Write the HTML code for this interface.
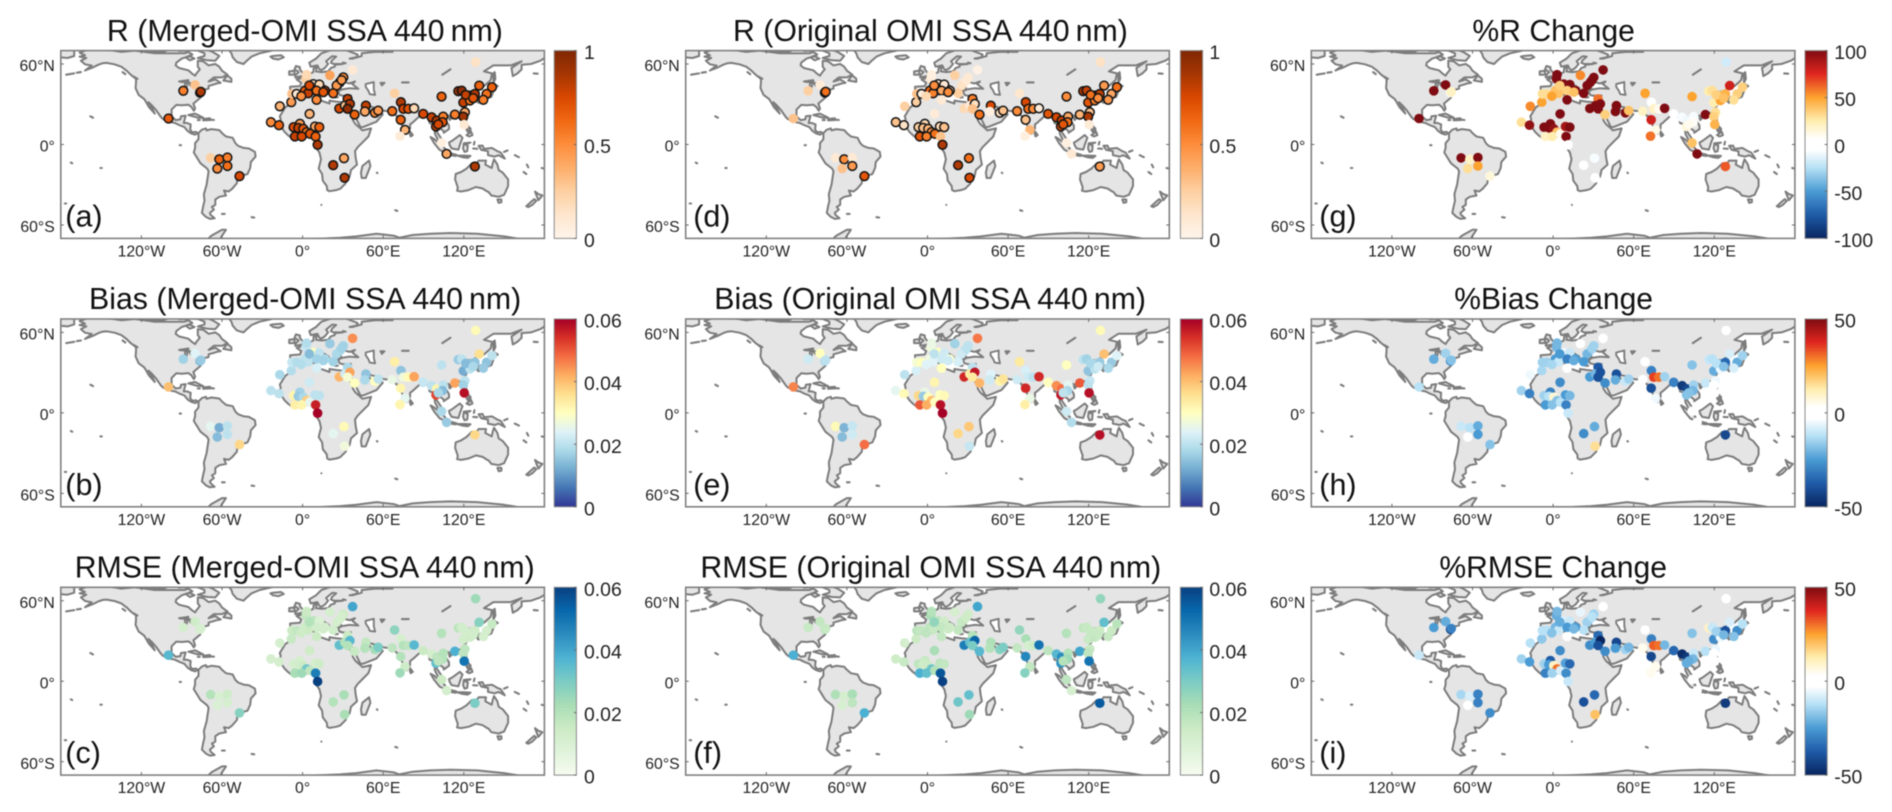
<!DOCTYPE html>
<html lang="en">
<head>
<meta charset="utf-8">
<title>SSA validation maps</title>
<style>
html,body{margin:0;padding:0;background:#fff;width:1892px;height:812px;overflow:hidden}
svg{display:block;filter:blur(0.5px)}
text{font-family:"Liberation Sans",Arial,sans-serif}
</style>
</head>
<body>
<svg id="figure" xmlns="http://www.w3.org/2000/svg" width="1892" height="812" viewBox="0 0 1892 812"><defs id="defs"></defs><rect width="1892" height="812" fill="#fff"></rect></svg>
<script>
/* Site locations, grouped: N.America, S.America, Africa, Europe, Middle East, India, E.Asia/Oceania */
const siteLon=[-88.8,-80,-76.4,-75.8,-99.8,
-68.5,-62,-56,-63.5,-56,-47,
-23.6,-17.6,-17,-8.4,-8,5.2,-6.7,-2,-3.2,.5,3,-5.7,-.7,5.5,9.2,12.4,9.7,11.2,22.8,30.8,31.3,
2.5,3,20.3,37.2,30.3,27.8,25.3,22.8,-4.5,1.7,8,12.4,4.2,10.4,16.6,10.4,15.4,5,-1,
27.3,33.5,31.5,35.2,33.5,38.7,47.1,46.4,53.8,56.3,68.5,66.7,
73.2,75,78.7,83,73,76.2,72.5,89.8,
96,99.8,104.7,99.3,104.2,101,113.4,119.6,120.8,119.6,120.3,103.5,107.2,128.3,103.5,115.9,118.4,125,128.3,124.6,131.5,137,141,134.5,128.8,121.5,127,29];
const siteLat=[40,44.4,38.7,39.3,19.4,
-10,-11,-9.7,-18,-16,-23.6,
16.6,14.4,28.5,31.5,37.7,22.8,12.9,15.4,12.4,11.7,9.2,6,6,8,13.4,12.9,6,-.2,-15.4,-10.2,-24.8,
49,52,51.6,55.6,50,46.4,44,38.2,37.7,40.2,45,44.7,38.2,40.2,40.2,33.3,39,44,36,
26.8,34,29,30.3,26.6,22.3,29,24.6,23.6,25.3,38.2,24.8,
31.5,26.6,26.6,27,18.4,10.9,6.2,22.8,
20.3,17.9,20.8,13.4,16.6,15,22.3,31.3,24,20.8,14.9,1.2,-7,-16.4,35.7,39.7,40.2,36.5,37.7,32.8,43.9,37.7,42.7,33.3,61.5,37,34.5,48];

const rMerged=[.55,.3,.8,.85,.68,
.25,.65,.55,.5,.6,.75,
.5,.65,.35,.45,.3,.35,.75,.45,.8,.7,.6,.8,.75,.7,.4,.65,.65,.85,.85,.4,.85,
.25,.2,.42,.1,.5,.4,.45,.6,.1,.7,.15,.2,.8,.6,.8,.5,.7,.75,.5,
.75,.8,.3,.85,.95,.65,.8,.4,.5,.45,.25,.6,
.85,.75,.7,.2,.65,.35,.08,.75,
.8,.85,.55,.8,.7,.75,.55,.8,.4,.9,.1,.05,.4,.85,.65,.9,.95,.85,.85,.6,.65,.6,.65,.55,.15,.8,.7,.45];
const rOriginal=[.25,.08,.75,.6,.3,
.1,.5,.1,.3,.45,.7,
.3,.15,.25,.25,.3,.08,.25,.2,.3,.35,.5,.7,.55,.6,.2,.3,.3,.85,.85,.6,.75,
.08,.05,.25,.03,.1,.08,.15,.25,.05,.65,.1,.1,.55,.4,.2,.1,.5,.5,.2,
.2,.55,.1,.15,.3,.6,.75,.05,.15,.3,.12,.5,
.75,.6,.5,.08,.3,.35,.05,.7,
.75,.8,.4,.75,.6,.7,.35,.7,.3,.85,.08,.05,.1,.45,.5,.85,.8,.8,.8,.55,.45,.4,.6,.45,.15,.6,.5,.1];
const rChange=[100,100,8,20,100,
100,20,100,30,50,15,
30,95,55,50,30,100,100,100,100,95,40,20,25,10,90,100,100,3,-3,-8,-5,
100,100,55,100,100,100,100,100,30,40,100,100,40,35,100,100,40,35,50,
100,60,100,100,100,35,100,100,100,40,50,20,
0,20,10,100,80,12,60,5,
-8,-10,-8,15,8,10,100,25,30,35,45,40,100,65,50,25,30,40,45,50,80,35,35,30,-18,35,40,100];
const biasMerged=[.017,.024,.013,.016,.04,
.025,.012,.02,.014,.02,.037,
.02,.02,.018,.019,.021,.022,.032,.017,.016,.018,.038,.033,.032,.025,.02,.02,.056,.06,.025,.031,.027,
.021,.019,.016,.045,.017,.018,.018,.017,.019,.02,.03,.02,.02,.017,.018,.023,.017,.014,.019,
.041,.018,.022,.043,.028,.03,.015,.018,.03,.02,.033,.026,
.015,.027,.031,.043,.032,.025,.032,.021,
.02,.032,.02,.052,.014,.018,.043,.012,.02,.017,.058,.018,.016,.037,.02,.016,.02,.016,.015,.02,.036,.015,.02,.016,.031,.014,.018,.017];
const biasOriginal=[.022,.03,.018,.02,.046,
.031,.013,.021,.014,.022,.048,
.025,.031,.02,.023,.028,.032,.037,.026,.016,.03,.04,.05,.042,.03,.03,.031,.058,.06,.037,.039,.021,
.027,.026,.017,.047,.02,.02,.022,.023,.03,.027,.03,.022,.024,.022,.028,.03,.022,.02,.024,
.055,.02,.033,.057,.034,.041,.024,.022,.032,.035,.034,.022,
.023,.022,.02,.055,.055,.026,.033,.03,
.045,.048,.025,.057,.018,.02,.05,.015,.021,.02,.058,.022,.019,.058,.03,.02,.017,.019,.016,.02,.04,.016,.024,.018,.031,.018,.022,.02];
const biasChange=[-22,-15,-28,-18,-12,
-10,-12,-22,0,-25,-18,
-15,-30,-5,-14,-15,-28,-15,-30,-12,8,-18,-25,-18,-12,-25,-20,-30,-10,-28,-22,15,
-20,-20,0,-2,-15,-12,-20,-25,-15,-25,-5,-10,-10,-30,-25,-2,-22,-25,-14,
-25,-38,-20,-40,-40,-28,-40,-22,-10,-15,0,3,
-30,35,30,-15,-40,-5,0,-30,
-45,-42,-15,-18,-20,-18,-10,-22,-5,-2,-3,-3,-3,-42,-18,-10,-12,-20,-35,-5,-8,-22,-15,-8,0,-12,-18,-15];
const rmseMerged=[.012,.014,.012,.011,.036,
.02,.011,.014,.01,.012,.028,
.012,.012,.012,.016,.015,.014,.012,.012,.013,.015,.032,.022,.024,.018,.012,.014,.048,.06,.02,.022,.022,
.017,.015,.012,.04,.014,.01,.012,.013,.017,.014,.018,.01,.015,.013,.012,.015,.013,.02,.014,
.034,.015,.02,.036,.02,.016,.017,.02,.023,.03,.027,.018,
.012,.02,.018,.036,.02,.014,.024,.015,
.012,.018,.02,.034,.02,.018,.038,.013,.018,.018,.05,.015,.012,.03,.02,.018,.013,.014,.014,.014,.028,.012,.016,.012,.024,.013,.013,.012];
const rmseOriginal=[.016,.017,.018,.016,.038,
.021,.012,.022,.011,.018,.038,
.014,.016,.012,.015,.018,.022,.018,.016,.014,.015,.032,.038,.034,.02,.018,.017,.056,.06,.032,.034,.024,
.022,.02,.012,.04,.013,.014,.016,.017,.017,.018,.018,.014,.016,.017,.014,.017,.015,.026,.018,
.048,.02,.034,.053,.03,.036,.021,.02,.028,.03,.026,.017,
.022,.012,.014,.05,.046,.017,.028,.018,
.036,.045,.02,.044,.024,.02,.04,.016,.016,.018,.05,.018,.011,.055,.02,.017,.016,.016,.015,.017,.034,.015,.019,.016,.026,.016,.016,.014];
const rmseChange=[-25,-22,-42,-30,-10,
-14,-8,-30,0,-30,-28,
-15,-25,-12,-17,-12,-28,-15,-38,-25,10,30,-30,-15,-8,-24,-35,-28,-10,-40,-35,20,
-22,-20,-6,-2,-15,-10,-15,-12,-12,-20,-8,-10,-10,-25,-25,-2,-20,-22,-18,
-28,-35,-25,-50,-40,-28,-42,-25,-15,-20,3,5,
-30,32,30,-20,-42,5,5,-35,
-48,-45,-10,-22,-20,-22,-12,-28,-6,-2,-3,0,-3,-45,-18,10,-10,-25,-40,-5,-8,-28,-12,-18,0,-15,-20,-12];
const rMergedSignificant=[1,0,1,1,1,
0,1,1,1,1,1,
1,1,1,1,0,1,1,1,1,1,1,1,1,1,1,1,1,1,1,1,1,
0,0,0,0,1,1,1,1,1,1,1,1,1,1,1,1,1,1,1,
1,1,1,1,1,1,1,1,1,1,0,1,
1,1,1,1,1,1,0,1,
1,1,1,1,1,1,1,1,1,1,0,0,1,1,1,1,1,1,1,1,1,1,1,1,0,1,1,1];
const rOriginalSignificant=[0,0,1,1,0,
0,1,0,0,1,1,
1,1,0,1,0,0,1,1,1,1,1,1,1,1,1,1,0,1,1,1,1,
0,0,0,0,0,0,0,0,1,1,1,1,1,1,1,0,1,1,0,
0,1,0,1,0,1,1,0,1,1,0,1,
1,1,1,1,1,0,0,1,
1,1,1,1,1,1,1,1,1,1,0,0,0,1,1,1,1,1,1,1,1,1,1,1,0,1,1,0];
const noSignificance=[];

const rTickValues=[0,.5,1];
const rTickLabels=['0','0.5','1'];
const metricTickValues=[0,.02,.04,.06];
const metricTickLabels=['0','0.02','0.04','0.06'];
const rChangeTickValues=[-100,-50,0,50,100];
const rChangeTickLabels=['-100','-50','0','50','100'];
const changeTickValues=[-50,0,50];
const changeTickLabels=['-50','0','50'];
const lonTickValues=[-120,-60,0,60,120];
const lonTickLabels=['120°W','60°W','0°','60°E','120°E'];
const latTickValues=[-60,0,60];
const latTickLabels=['60°S','0°','60°N'];

const orangeMap=[[0,'#fff5eb'],[.125,'#fee6ce'],[.25,'#fdd0a2'],[.375,'#fdae6b'],[.5,'#fd8d3c'],[.625,'#f16913'],[.75,'#d94801'],[.875,'#a63603'],[1,'#7f2704']];
const rdYlBuMap=[[0,'#313695'],[.1,'#4575b4'],[.2,'#74add1'],[.3,'#abd9e9'],[.4,'#e0f3f8'],[.5,'#ffffbf'],[.6,'#fee090'],[.7,'#fdae61'],[.8,'#f46d43'],[.9,'#d73027'],[1,'#a50026']];
const gnBuMap=[[0,'#f7fcf0'],[.125,'#e0f3db'],[.25,'#ccebc5'],[.375,'#a8ddb5'],[.5,'#7bccc4'],[.625,'#4eb3d3'],[.75,'#2b8cbe'],[.875,'#0868ac'],[1,'#084081']];
const changeMap=[[0,'#08255f'],[.125,'#1f5ba8'],[.25,'#4a9bd4'],[.375,'#b5e0f5'],[.47,'#ffffff'],[.53,'#ffffff'],[.625,'#ffeeb0'],[.75,'#fda330'],[.875,'#e0261f'],[1,'#7f0c12']];

/* Coastline polygons as flat lon,lat lists */
const landPolygons=[
[-156,72,-166,68.5,-162,66.5,-166,65.5,-161,64.5,-165,62.5,-162,59.8,-157,58.8,-162,55.2,-156,57.5,-152,59.5,-149,60.5,-146,60.8,-140,59.8,-135,58,-131,55,-128,52,-124,49,-124,46,-124.3,42,-122,37,-118,34,-117,32.5,-114.5,28,-110,23,-112,27,-114.7,31.5,-112,29,-109,25.5,-105.5,20.5,-104,19,-100,17,-95,16,-92,14.5,-88,13,-85.5,10,-83,8.3,-80,7.3,-78,8.5,-79.5,9.5,-82,9,-83.7,11,-83.3,15,-86,16,-88.5,16,-87.5,20,-87,21.5,-90.5,21,-91,18.7,-94.5,18.2,-97.5,21,-97.5,26,-94,29.5,-90,29.2,-85,29.7,-82.8,28,-81,25.2,-80,26.8,-81.3,30.5,-76,35,-76,37,-74,40.5,-70,41.7,-70,43.7,-66,44.8,-64,45.5,-61,46,-65,48.5,-70,47,-66,50,-60,50,-56,52,-60,55,-62,58,-65,60,-70,59,-74,62,-78,62.5,-78,58,-76.5,56,-79,53,-80,51.3,-82.5,53,-85,55.3,-92,57,-94.5,59,-94,61,-90,64,-87,65,-82,67,-85,69,-88,68,-95,68,-110,68,-125,70,-135,69,-141,70,-156,71.5],
[-77.5,8.5,-75,11,-72,12,-71.5,10.5,-68,11.5,-62,10.7,-60,8.5,-57,6,-52,5,-50,1,-48,-1,-44,-2.5,-40,-3,-35.5,-5.5,-35,-9,-38.5,-13,-39,-17.5,-41,-22,-44.5,-23,-48.5,-26,-49,-29,-52.5,-33,-55,-35,-58.5,-34.3,-57,-38,-62,-39,-65,-41,-65,-45,-67.5,-46.5,-66,-48.5,-69,-51,-68.5,-52.5,-65.5,-55,-69,-55.5,-72,-54,-75,-51,-74,-46,-73,-42,-73.5,-37,-71.5,-30,-70,-20,-71,-18,-76,-14,-81,-6,-80,-2.5,-80,1,-77.5,4,-77.5,7],
[-6,35.8,-2,35,3,37,10,37.3,11,33.5,15,32.3,20,30.5,20,32.7,25,32,32,31.2,32.6,29.9,34.2,28,35,24,37,21,37.5,18,39.5,15,43,12,44.5,10.5,51,12,49,6,45,2,41,-2,39,-5,39.5,-10,40.5,-15,36,-19,35,-24,32.8,-26,32,-29,28,-33,25,-34,20,-34.8,18.3,-34,18,-31,15,-27,14.5,-22,12,-18,13.7,-11,12.5,-6,9,-1,9.5,3.5,8.5,4.5,5,5.8,1,6,-4,5.2,-7.5,4.3,-11,7,-13.5,9.5,-17,14.7,-16.3,19,-17,21,-13,27.5,-9.7,30,-9,33],
[-5.5,36,-9,37,-9.3,43,-2,43.5,-1,46,-4.5,48.5,1,50,4,52,8,54,8.3,57,10.5,57.5,10,54.5,14,54,19,54.5,21,57,24,58,24,59.5,30,60,23,60,21,61,22,63,25,65.5,22,65.8,17.5,62,19,60,16.5,57,14,55.5,12.5,56,11,59,6,58,5,61,10,64,14,68,20,70,28,72,41,67,40,65,35,64,37,64,44,66,44,68,54,69,60,69,67,69,68,72,75,72,181,72,181,65,177,62.5,170,60,163,59.5,163,56,160,53,156.5,51,155.5,57,163,62,155,59,142,59,135,54.5,141,53,140,48,135,43.5,130,42.5,127.5,39.5,129.4,36,126.5,34.5,126,37.5,125,39.5,121,39,118,39,119,37.3,122.5,37,119.5,35,121.8,31,122,29,119,25,116,22.8,110,21,108,21.7,106,19,109,14,109,11.5,105,8.7,105,10,100.5,13.5,99.5,10,103.5,4,104,1.5,101,3,98.5,8,98,15,94.5,16,94,19,91.5,22.7,89,21.8,87,21,82,16.5,80,15,80,12,77.5,8,76,10,73,17,72.8,21,70,21,69,22.5,66.5,25,61.5,25,57,26,56,27,51,28,48,30,48.5,28.5,50,26,51.5,24.5,54,24,56.3,25.8,59.7,22.5,55,17,45,13,43,13,39,21,35,28,34.8,29.5,34,28,32.7,30,32.5,31.2,36,36.5,30,36.3,27.5,37,26.5,39.5,29,41,35,42,41.5,41.5,37,45,39,47,35,45.5,33,46,30.7,46.5,28,43,29,41.3,26,40.8,23,40.5,24,38,22.5,36.7,19.5,41,19.5,42,13.5,45.7,12.5,44,18.5,40,16,38,12.5,41.5,8.5,44.3,3.5,43.3,3,41.7,0,39.5,-2,36.8],
[-181,72,-170,72,-170,66,-175,64.5,-181,65],
[114,-22,113.5,-26,115.5,-32,115,-34.5,118,-35,123.5,-34,129,-31.7,134,-32.8,137.5,-35,138.5,-35.5,140.5,-38,146,-39,150,-37.5,153,-31,153,-26,149,-21,146,-19,145,-15,142.5,-11,141.5,-14,140.8,-17.5,136,-15,136.5,-12,131,-12,129,-15,126,-14,122,-18,118,-20.5],
[49.5,-12,50.5,-16,47,-25,44,-25,43.5,-21,44.5,-16],
[-56,72,-53,68,-52,65,-49,61.5,-44,60,-42,62,-38,65.5,-32,68,-23,70,-22,72],
[-80,73,-72,71,-67,69,-62,66,-65,62.5,-71,62.8,-78,64.5,-73,66,-73,68,-78,70,-88,71,-88,73],
[-117,73,-117,70,-105,68.8,-101,70,-101,73],
[-96,72,-92,69.8,-86,70,-88,72],
[-87,65,-84,65.8,-80.5,64,-84,62.8],
[-59,47.7,-53,46.7,-53,49,-56,51.5],
[-85,22,-80,23,-74,20,-78,20],
[-74,19,-69,19.5,-68.5,18.3,-74,18],
[-5.5,50,1,51.2,0,53.5,-2,56,-2,57.7,-5,58.5,-6,56,-3,54,-5,52],
[-10,52,-6,52,-6,55,-10,54.5],
[-24,65.5,-22,64,-18,63.4,-14,65,-16,66.5,-22,66],
[131,34,136,34,140.5,35.5,142,39.5,141,41.3,139.5,39,136,36.5,132,35.3],
[140,42,143,42,145.3,43.5,142,45.5,141,43.5],
[130,33.5,131.5,33,131,31,130,32],
[142,46,143.5,49,143,54,142,53,142,49],
[121,25,122,25,120.8,22,120,23.5],
[109,20,111,19.7,109.5,18.2],
[80,9.7,82,7,80.5,6,79.8,8],
[120.5,18.5,122,18.5,122,15,124,13,121,13.7,120,16],
[122,7,125.5,9.5,126.5,7,124,6],
[122,11,125,12,125,10.5,123,9.5],
[109,1.5,111,2.5,114,4.7,117,7,119,5,117.5,1,116,-3.8,111,-3,109.5,-.5],
[95.3,5.6,98,4,103.5,-1,106,-3,105.8,-5.8,102,-4,98,1],
[105.3,-6.5,110,-6.5,114.5,-7.7,114,-8.6,106,-7.4],
[115,-8.3,120,-8.3,125,-8.5,123,-10,119,-9.5],
[119.5,-3,120,1,125,1.4,121,0,123,-1,122.5,-5,120.5,-5.5],
[131,-1,134,-.8,135,-3.3,141,-2.6,145,-5,147.5,-6,150.5,-10.5,146,-8,143,-9,138,-8,138,-5,133,-4],
[145,-41,148,-41,148,-43,146,-43.5],
[173,-35,175.5,-37,178.5,-38,175.5,-41.5,174.5,-39],
[172.5,-40.7,174,-42,171,-45,168,-46.7,166.5,-46,171,-42],
[-60,-63.5,-57,-63.5,-60,-68,-62,-72,-72,-72,-68,-68],
[-10,-73,5,-70.5,28,-69.5,40,-68.5,55,-66.5,68,-68,72,-69.5,82,-67.5,95,-66.5,110,-66,130,-66.5,150,-68.5,165,-71,165,-75,-10,-75],
[12.5,38,15.5,38,15,36.8],
[8.3,41,9.7,41,9.6,39,8.5,39],
[23.5,35.5,26.3,35.2,24.5,35],
[32.3,35,34.5,35.6,33.5,34.6]
];
const lakePolygons=[
[47,45,53,46.5,53,41,54,37,50,37.5,49,40,47,43],
[58,46,61,46,59,44],
[-92,47,-85,48,-85,46.6,-90,46.6],
[-87.5,46,-85.5,45.5,-86.5,42,-87.7,42],
[-84.5,46,-80,45.5,-82,43,-83.5,44]
];
const coastStrokes=[[104,52,110,56],[74,46.3,79,46.3],[-123,49,-125.5,50.5],[30,61,32,60.5],[-158,21,-156,20],[-172.5,-13.5,-171.5,-14],[-150.5,-17.5,-149.5,-17.5],[-91.5,-.5,-90.5,-.5],[69,-49,70.5,-49.5],[55.3,-21,55.7,-21.3],[178,-17.5,179,-17.8],[164.5,-20.5,166.5,-22],[158,-8,161,-9.5],[167,-15,168,-17],[150,-5.5,152.5,-4.5],[-60,-51.7,-58,-51.7],[-38,-54.2,-36,-54.5],[-177,-44,-176,-44],[-16.5,28.2,-15.5,28],[-24,16,-23,15.5],[-70,18.7,-66,18.3],[-78,18.2,-76.5,18.2],[-176,52,-170,53],[-168,53.5,-165,54],[-134,54,-132,52.5],[172,53,175,52.8],[127,-3,130,-3.2],[127.5,0,128,2],[9.3,43,9.3,41.6],[14,-45,14,-45]];

const colLefts=[60.8,685.7,1311.3];
const rowTops=[50.6,319,587.3];
const axisW=483.6, axisH=187.8;
const barLefts=[554.2,1180.4,1805];
const barLabelLefts=[584,1209.4,1834.3];
const letterOffsets=[4.5,7.5,8];

const panels=[
{letter:'a',col:0,row:0,title:'R (Merged-OMI SSA 440\u2009nm)',tx:106.9,tw:396,values:rMerged,sig:rMergedSignificant,cmap:orangeMap,min:0,max:1,tv:rTickValues,tl:rTickLabels},
{letter:'b',col:0,row:1,title:'Bias (Merged-OMI SSA 440\u2009nm)',tx:89,tw:432.2,values:biasMerged,sig:noSignificance,cmap:rdYlBuMap,min:0,max:.06,tv:metricTickValues,tl:metricTickLabels},
{letter:'c',col:0,row:2,title:'RMSE (Merged-OMI SSA 440\u2009nm)',tx:74.7,tw:460,values:rmseMerged,sig:noSignificance,cmap:gnBuMap,min:0,max:.06,tv:metricTickValues,tl:metricTickLabels},
{letter:'d',col:1,row:0,title:'R (Original OMI SSA 440\u2009nm)',tx:733,tw:394.8,values:rOriginal,sig:rOriginalSignificant,cmap:orangeMap,min:0,max:1,tv:rTickValues,tl:rTickLabels},
{letter:'e',col:1,row:1,title:'Bias (Original OMI SSA 440\u2009nm)',tx:714.3,tw:431.7,values:biasOriginal,sig:noSignificance,cmap:rdYlBuMap,min:0,max:.06,tv:metricTickValues,tl:metricTickLabels},
{letter:'f',col:1,row:2,title:'RMSE (Original OMI SSA 440\u2009nm)',tx:700.4,tw:460.8,values:rmseOriginal,sig:noSignificance,cmap:gnBuMap,min:0,max:.06,tv:metricTickValues,tl:metricTickLabels},
{letter:'g',col:2,row:0,title:'%R Change',tx:1472.4,tw:162.5,values:rChange,sig:noSignificance,cmap:changeMap,min:-100,max:100,tv:rChangeTickValues,tl:rChangeTickLabels},
{letter:'h',col:2,row:1,title:'%Bias Change',tx:1454.3,tw:198.7,values:biasChange,sig:noSignificance,cmap:changeMap,min:-50,max:50,tv:changeTickValues,tl:changeTickLabels},
{letter:'i',col:2,row:2,title:'%RMSE Change',tx:1439.4,tw:227.6,values:rmseChange,sig:noSignificance,cmap:changeMap,min:-50,max:50,tv:changeTickValues,tl:changeTickLabels}
];

const NS='http://www.w3.org/2000/svg';
const figure=document.getElementById('figure');
const defs=document.getElementById('defs');
function make(parent,tag,attrs,txt){
  const el=document.createElementNS(NS,tag);
  for(const k in attrs){el.setAttribute(k,attrs[k]);}
  if(txt!==undefined){el.textContent=txt;}
  parent.appendChild(el);
  return el;
}
function hexToRgb(h){return [parseInt(h.substr(1,2),16),parseInt(h.substr(3,2),16),parseInt(h.substr(5,2),16)];}
function colorOf(map,t){
  t=Math.max(0,Math.min(1,t));
  for(let i=1;i<map.length;i++){
    if(t<=map[i][0]){
      const a=map[i-1],b=map[i],f=(t-a[0])/(b[0]-a[0]);
      const ca=hexToRgb(a[1]),cb=hexToRgb(b[1]);
      return 'rgb('+ca.map((v,j)=>Math.round(v+(cb[j]-v)*f)).join(',')+')';
    }
  }
  return map[map.length-1][1];
}
function polyPath(list,closed,xs,ys){
  let d='';
  list.forEach(p=>{
    for(let i=0;i<p.length;i+=2){
      d+=(i?'L':'M')+xs(p[i]).toFixed(1)+' '+ys(p[i+1]).toFixed(1);
    }
    if(closed){d+='Z';}
  });
  return d;
}
const gradients={};
function gradientFor(map,key){
  if(gradients[key]){return gradients[key];}
  const g=make(defs,'linearGradient',{id:'grad-'+key,x1:0,y1:1,x2:0,y2:0});
  map.forEach(s=>make(g,'stop',{offset:s[0],'stop-color':s[1]}));
  gradients[key]='url(#grad-'+key+')';
  return gradients[key];
}

panels.forEach(p=>{
  const left=colLefts[p.col], top=rowTops[p.row];
  const right=left+axisW, bottom=top+axisH;
  const xScale=lon=>left+(lon+180)/360*axisW;
  const yScale=lat=>top+(70-lat)/140*axisH;

  const group=make(figure,'g',{});
  
  

  const title=make(group,'text',{x:p.tx,y:rowTops[p.row]-9.8,'font-size':31,fill:'#111',textLength:p.tw,lengthAdjust:'spacingAndGlyphs'},p.title);
  
  

  const clip=make(defs,'clipPath',{id:'clip-'+p.letter});
  make(clip,'rect',{x:left,y:top,width:axisW,height:axisH});

  const map=make(group,'g',{'clip-path':'url(#clip-'+p.letter+')'});
  
  
  const land=make(map,'path',{d:polyPath(landPolygons,true,xScale,yScale),fill:'#e5e5e5',stroke:'#7c7c7c','stroke-width':2,'stroke-linejoin':'round'});
  
  
  const lakes=make(map,'path',{d:polyPath(lakePolygons,true,xScale,yScale),fill:'#fff',stroke:'#7c7c7c','stroke-width':1.9,'stroke-linejoin':'round'});
  
  
  const strokes=make(map,'path',{d:polyPath(coastStrokes,false,xScale,yScale),fill:'none',stroke:'#7c7c7c','stroke-width':2.1,'stroke-linecap':'round'});
  
  

  const sites=make(map,'g',{});
  
  
  siteLon.forEach((lon,i)=>{
    const outlined=p.sig[i]===1;
    const c=make(sites,'circle',{cx:xScale(lon).toFixed(1),cy:yScale(siteLat[i]).toFixed(1),r:outlined?4.4:4.8,fill:colorOf(p.cmap,(p.values[i]-p.min)/(p.max-p.min))});
    if(outlined){
      c.setAttribute('stroke','#141414');
      c.setAttribute('stroke-width','1.5');
    }
    
    
  });

  const frame=make(group,'rect',{x:left,y:top,width:axisW,height:axisH,fill:'none',stroke:'#808080','stroke-width':1.6});
  
  

  lonTickValues.forEach((v,i)=>{
    const x=xScale(v);
    const t1=make(group,'line',{x1:x,x2:x,y1:bottom,y2:bottom-3,stroke:'#666','stroke-width':1});
    
    
    const t2=make(group,'line',{x1:x,x2:x,y1:top,y2:top+3,stroke:'#666','stroke-width':1});
    
    
    const lab=make(group,'text',{x:x,y:bottom+18,'font-size':15.8,'text-anchor':'middle',fill:'#222'},lonTickLabels[i]);
    
    
  });
  latTickValues.forEach((v,i)=>{
    const y=yScale(v);
    const t1=make(group,'line',{x1:left,x2:left+3,y1:y,y2:y,stroke:'#666','stroke-width':1});
    
    
    const t2=make(group,'line',{x1:right,x2:right-3,y1:y,y2:y,stroke:'#666','stroke-width':1});
    
    
    const lab=make(group,'text',{x:left-6,y:y+7.2,'font-size':15.8,'text-anchor':'end',fill:'#222'},latTickLabels[i]);
    
    
  });

  const letter=make(group,'text',{x:left+letterOffsets[p.col],y:bottom-12,'font-size':30.5,fill:'#111'},'('+p.letter+')');
  
  

  const barLeft=barLefts[p.col], barW=22.2;
  const key=p.cmap===orangeMap?'or':p.cmap===rdYlBuMap?'rd':p.cmap===gnBuMap?'gn':'ch';
  const bar=make(group,'rect',{x:barLeft,y:top,width:barW,height:axisH,fill:gradientFor(p.cmap,key),stroke:'#8a8a8a','stroke-width':1});
  
  
  p.tv.forEach((v,i)=>{
    const y=bottom-(v-p.min)/(p.max-p.min)*axisH;
    const tick=make(group,'line',{x1:barLeft+barW,x2:barLeft+barW-2.5,y1:y,y2:y,stroke:'#666','stroke-width':1});
    
    
    const lab=make(group,'text',{x:barLabelLefts[p.col],y:y+8.6,'font-size':19.4,fill:'#222'},p.tl[i]);
    
    
  });
});
</script>
</body>
</html>
